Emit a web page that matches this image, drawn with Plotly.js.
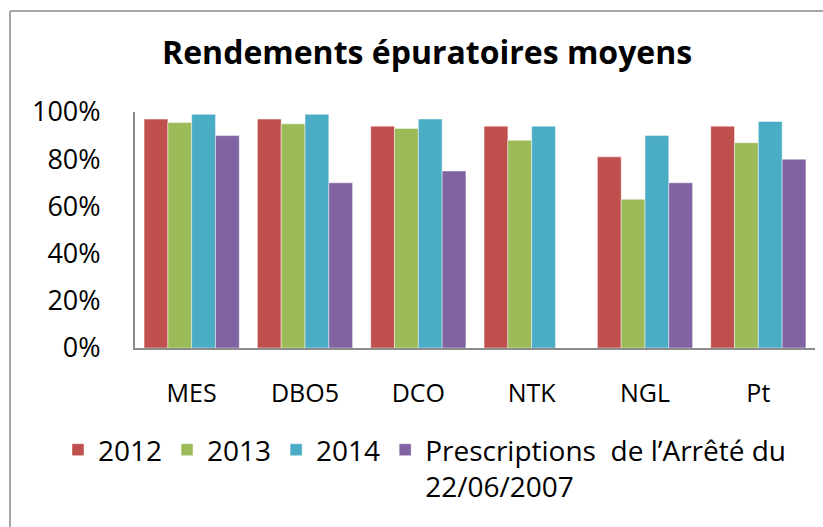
<!DOCTYPE html>
<html>
<head>
<meta charset="utf-8">
<script src="https://cdn.plot.ly/plotly-3.0.1.min.js"></script>
<style>html,body{margin:0;padding:0;background:#fff;}#chart{width:823px;height:527px;}</style>
</head>
<body>
<div id="chart"></div>
<script>
const categories = ["MES", "DBO5", "DCO", "NTK", "NGL", "Pt"];
const seriesNames = ["2012", "2013", "2014", "Prescriptions  de l\u2019Arrêté du<br>22/06/2007"];
const v2012 = [0.97, 0.97, 0.94, 0.94, 0.81, 0.94];
const v2013 = [0.955, 0.95, 0.93, 0.88, 0.63, 0.87];
const v2014 = [0.99, 0.99, 0.97, 0.94, 0.90, 0.96];
const vPrescriptions = [0.90, 0.70, 0.75, null, 0.70, 0.80];
const yTickVals = [0, 0.2, 0.4, 0.6, 0.8, 1.0];
const yTickText = ["0%", "20%", "40%", "60%", "80%", "100%"];
const colors = ["#C0504D", "#9BBB59", "#4BACC6", "#8064A2"];

const allValues = [v2012, v2013, v2014, vPrescriptions];
const traces = allValues.map((vals, i) => ({
  type: "bar",
  name: seriesNames[i],
  x: categories,
  y: vals,
  marker: { color: colors[i], line: { color: "rgba(255,255,255,0.45)", width: 1 } },
  hoverinfo: "x+y+name"
}));

const font = "Open Sans, Noto Sans, sans-serif";
const layout = {
  width: 823,
  height: 527,
  paper_bgcolor: "#ffffff",
  plot_bgcolor: "#ffffff",
  margin: { l: 135, r: 8, t: 112, b: 179, pad: 0 },
  title: {
    text: "<b>Rendements épuratoires moyens</b>",
    font: { family: font, size: 32, color: "#000000" },
    x: 0.519, xref: "container", xanchor: "center",
    y: 0.899, yref: "container", yanchor: "middle"
  },
  barmode: "group",
  bargap: 0.16,
  bargroupgap: 0,
  xaxis: {
    type: "category",
    showline: true, linecolor: "#8c8c8c", linewidth: 2,
    showgrid: false, ticks: "", zeroline: false,
    tickfont: { family: font, size: 25, color: "#000000" },
    ticklabelstandoff: 22
  },
  yaxis: {
    range: [0, 1],
    tickvals: yTickVals, ticktext: yTickText,
    showline: true, linecolor: "#8c8c8c", linewidth: 2,
    showgrid: false, ticks: "", zeroline: false,
    tickfont: { family: font, size: 27, color: "#000000" },
    ticklabelstandoff: 27
  },
  showlegend: true,
  legend: {
    orientation: "h",
    xref: "paper", yref: "paper",
    x: -77/680, xanchor: "left",
    y: -77/236, yanchor: "top",
    valign: "top",
    font: { family: font, size: 28, color: "#000000" },
    bgcolor: "rgba(0,0,0,0)",
    traceorder: "normal",
    itemclick: false
  },
  shapes: [
    { type: "line", xref: "paper", yref: "paper",
      x0: -125/680, x1: 720/680, y0: 1 + 101/236, y1: 1 + 101/236,
      line: { color: "#a6a6a6", width: 2 } },
    { type: "line", xref: "paper", yref: "paper",
      x0: -125/680, x1: -125/680, y0: 1 + 101/236, y1: -200/236,
      line: { color: "#a6a6a6", width: 2 } }
  ]
};

Plotly.newPlot("chart", traces, layout, { displayModeBar: false, staticPlot: true });
</script>
</body>
</html>
